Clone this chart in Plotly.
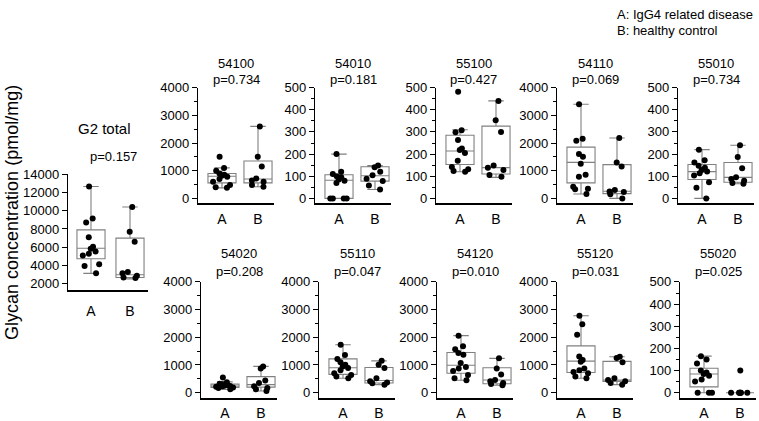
import plotly.graph_objects as go

W, H = 759, 421

# ---------------- data ----------------
panel_names = ["G2 total", "54100", "54010", "55100", "54110", "55010",
               "54020", "55110", "54120", "55120", "55020"]
p_values = ["p=0.157", "p=0.734", "p=0.181", "p=0.427", "p=0.069", "p=0.734",
            "p=0.208", "p=0.047", "p=0.010", "p=0.031", "p=0.025"]
group_labels = ["A", "B"]

g2_A = [12650, 9150, 8700, 7100, 6050, 5850, 5550, 5300, 5100, 4150, 3950, 3150]
g2_B = [10400, 7700, 6600, 3300, 3150, 2900, 2700, 2650]
s54100_A = [1500, 1100, 1000, 900, 850, 820, 780, 700, 600, 480, 400, 380]
s54100_B = [2600, 1500, 1150, 720, 650, 600, 480, 420]
s54010_A = [200, 120, 110, 100, 95, 85, 80, 70, 0, 0, 0, 0]
s54010_B = [148, 140, 120, 104, 89, 79, 58, 40]
s55100_A = [481, 308, 298, 264, 225, 218, 205, 170, 142, 131, 124, 120]
s55100_B = [440, 353, 300, 148, 138, 128, 105, 98]
s54110_A = [3400, 2150, 2080, 1600, 1500, 1250, 850, 780, 420, 350, 330, 160]
s54110_B = [2180, 1300, 1150, 300, 250, 230, 150, 0]
s55010_A = [220, 172, 162, 147, 138, 128, 121, 114, 103, 73, 48, 0]
s55010_B = [240, 187, 136, 95, 88, 80, 70, 66]
s54020_A = [550, 380, 320, 300, 280, 260, 240, 230, 210, 190, 170, 120]
s54020_B = [950, 870, 440, 350, 230, 170, 120, 60]
s55110_A = [1730, 1360, 1220, 1100, 1010, 950, 890, 810, 700, 640, 580, 520]
s55110_B = [1150, 1010, 890, 520, 410, 370, 340, 290]
s54120_A = [2060, 1680, 1570, 1430, 1370, 1070, 930, 870, 780, 640, 520, 450]
s54120_B = [1240, 870, 660, 460, 410, 350, 310, 270]
s55120_A = [2780, 2470, 2090, 1310, 1180, 1120, 870, 810, 750, 700, 580, 520]
s55120_B = [1300, 1250, 1100, 520, 460, 410, 350, 290]
s55020_A = [165, 150, 132, 100, 91, 84, 76, 59, 51, 0, 0, 0]
s55020_B = [100, 0, 0, 0, 0, 0, 0, 0]

# box statistics [q1, median, q3, lower whisker, upper whisker] for A and B
box_g2 = [[4750, 5900, 7900, 3150, 12650], [2700, 3000, 7000, 2550, 10400]]
box_54100 = [[560, 800, 900, 380, 1100], [560, 700, 1350, 420, 2600]]
box_54010 = [[0, 82, 107, 0, 200], [78, 102, 143, 40, 148]]
box_55100 = [[153, 214, 285, 120, 310], [110, 139, 326, 95, 440]]
box_54110 = [[560, 1300, 1850, 160, 3400], [170, 260, 1220, 0, 2180]]
box_55010 = [[85, 121, 153, 0, 220], [73, 95, 162, 66, 240]]
box_54020 = [[185, 235, 310, 120, 390], [200, 290, 580, 60, 950]]
box_55110 = [[660, 900, 1220, 520, 1730], [350, 440, 910, 290, 1150]]
box_54120 = [[700, 990, 1450, 450, 2060], [325, 460, 900, 270, 1240]]
box_55120 = [[730, 1140, 1690, 520, 2780], [410, 460, 1130, 290, 1300]]
box_55020 = [[26, 84, 110, 0, 165], [0, 0, 0, 0, 0]]

series = [(g2_A, g2_B, box_g2), (s54100_A, s54100_B, box_54100),
          (s54010_A, s54010_B, box_54010), (s55100_A, s55100_B, box_55100),
          (s54110_A, s54110_B, box_54110), (s55010_A, s55010_B, box_55010),
          (s54020_A, s54020_B, box_54020), (s55110_A, s55110_B, box_55110),
          (s54120_A, s54120_B, box_54120), (s55120_A, s55120_B, box_55120),
          (s55020_A, s55020_B, box_55020)]
y_max = [14000, 4000, 500, 500, 4000, 500, 4000, 4000, 4000, 4000, 500]

# ---------------- layout geometry (pixels) ----------------
top_x0 = [198, 315, 436, 557, 678]
bot_x0 = [201, 319, 437, 557, 680]
geom = [dict(x0=68, x1=148, yt=172, yb=291)]
for x0 in top_x0:
    geom.append(dict(x0=x0, x1=x0 + 76, yt=83, yb=202))
for x0 in bot_x0:
    geom.append(dict(x0=x0, x1=x0 + 76, yt=283, yb=402))

FONT = "Arial, Liberation Sans, sans-serif"
fig = go.Figure()
annotations = []


def fx(px):
    return px / W


def fy(py):
    return 1 - py / H


def label(text, x, y, size, **kw):
    d = dict(text=text, x=fx(x), y=fy(y), xref="paper", yref="paper",
             showarrow=False, xanchor="center", yanchor="middle",
             font=dict(family=FONT, size=size, color="black"))
    d.update(kw)
    return d


for i, (name, pv, (va, vb, bx), ymax, g) in enumerate(
        zip(panel_names, p_values, series, y_max, geom)):
    k = "" if i == 0 else str(i + 1)
    xa, ya = "x" + k, "y" + k
    if i == 0:
        ref_px = 285  # pixel of 2000
        ref_val = 2000
        ppu = (ref_px - g["yt"]) / (ymax - ref_val)
        yr = [ref_val - (g["yb"] - ref_px) / ppu, ymax]
        dtick, minor = 2000, None
        pos_a, spacing = 91, 39
        bw = 0.72
    else:
        zero_px = g["yb"] - 5
        ppu = (zero_px - g["yt"]) / ymax
        yr = [-(g["yb"] - zero_px) / ppu, ymax]
        dtick = ymax / 4 if ymax == 4000 else 100
        minor = dict(dtick=dtick / 2, ticks="outside", ticklen=3,
                     tickwidth=1.3, tickcolor="black")
        pos_a, spacing = g["x0"] + 24, 36
        bw = 0.78
    r0 = -(pos_a - g["x0"]) / spacing
    r1 = r0 + (g["x1"] - g["x0"]) / spacing

    fig.add_trace(go.Box(
        x=[0, 1], q1=[bx[0][0], bx[1][0]], median=[bx[0][1], bx[1][1]],
        q3=[bx[0][2], bx[1][2]], lowerfence=[bx[0][3], bx[1][3]],
        upperfence=[bx[0][4], bx[1][4]], orientation="v", width=bw,
        boxpoints=False, fillcolor="white", whiskerwidth=0.55,
        line=dict(color="#808080", width=1.1), xaxis=xa, yaxis=ya,
        showlegend=False, hoverinfo="skip"))
    for gi, vals in enumerate([va, vb]):
        jit = 1.0 if vals.count(0) >= 5 else 0.75
        fig.add_trace(go.Box(
            x=[gi] * len(vals), y=vals, width=bw, boxpoints="all",
            jitter=jit, pointpos=0, fillcolor="rgba(0,0,0,0)",
            line=dict(color="rgba(0,0,0,0)", width=0),
            marker=dict(color="black", size=6), xaxis=xa, yaxis=ya,
            showlegend=False))

    xdom = [fx(g["x0"]), fx(g["x1"])]
    ydom = [fy(g["yb"]), fy(g["yt"])]
    fig.layout["xaxis" + k] = dict(
        domain=xdom, range=[r0, r1], anchor=ya, tickvals=[0, 1],
        ticktext=group_labels, showline=True, linecolor="black", linewidth=1.6,
        ticks="", showgrid=False, zeroline=False, fixedrange=True,
        tickfont=dict(family=FONT, size=14, color="black"),
        ticklabelstandoff=8 if i == 0 else 2)
    yax = dict(
        domain=ydom, range=yr, anchor=xa, showline=True, linecolor="black",
        linewidth=1.4, ticks="outside", ticklen=5, tickwidth=1.4,
        tickcolor="black", dtick=dtick, tick0=0, tickformat="d",
        showgrid=False, zeroline=False, fixedrange=True,
        tickfont=dict(family=FONT, size=13, color="black"))
    if minor:
        yax["minor"] = minor
    fig.layout["yaxis" + k] = yax

    # titles
    if i == 0:
        annotations.append(label(name, 104, 125, 15))
        annotations.append(label(pv, 113, 154, 13))
    else:
        t1, t2 = (58, 75) if i <= 5 else (254, 272)
        cx = g["x0"] + 38
        annotations.append(label(name, cx, t1, 13))
        annotations.append(label(pv, cx, t2, 13))

annotations.append(label("Glycan concentration (pmol/mg)", 12, 212, 18,
                         textangle=-90))
annotations.append(label("A: IgG4 related disease", 615, 8, 13,
                         xanchor="left"))
annotations.append(label("B: healthy control", 615, 24, 13, xanchor="left"))

fig.update_layout(width=W, height=H, margin=dict(l=0, r=0, t=0, b=0),
                  paper_bgcolor="white", plot_bgcolor="white",
                  boxmode="overlay", annotations=annotations,
                  font=dict(family=FONT, color="black"))
fig.write_html("out.html", config={"displayModeBar": False},
               post_script="document.body.style.margin='0';"
                           "document.body.style.overflow='hidden';")
